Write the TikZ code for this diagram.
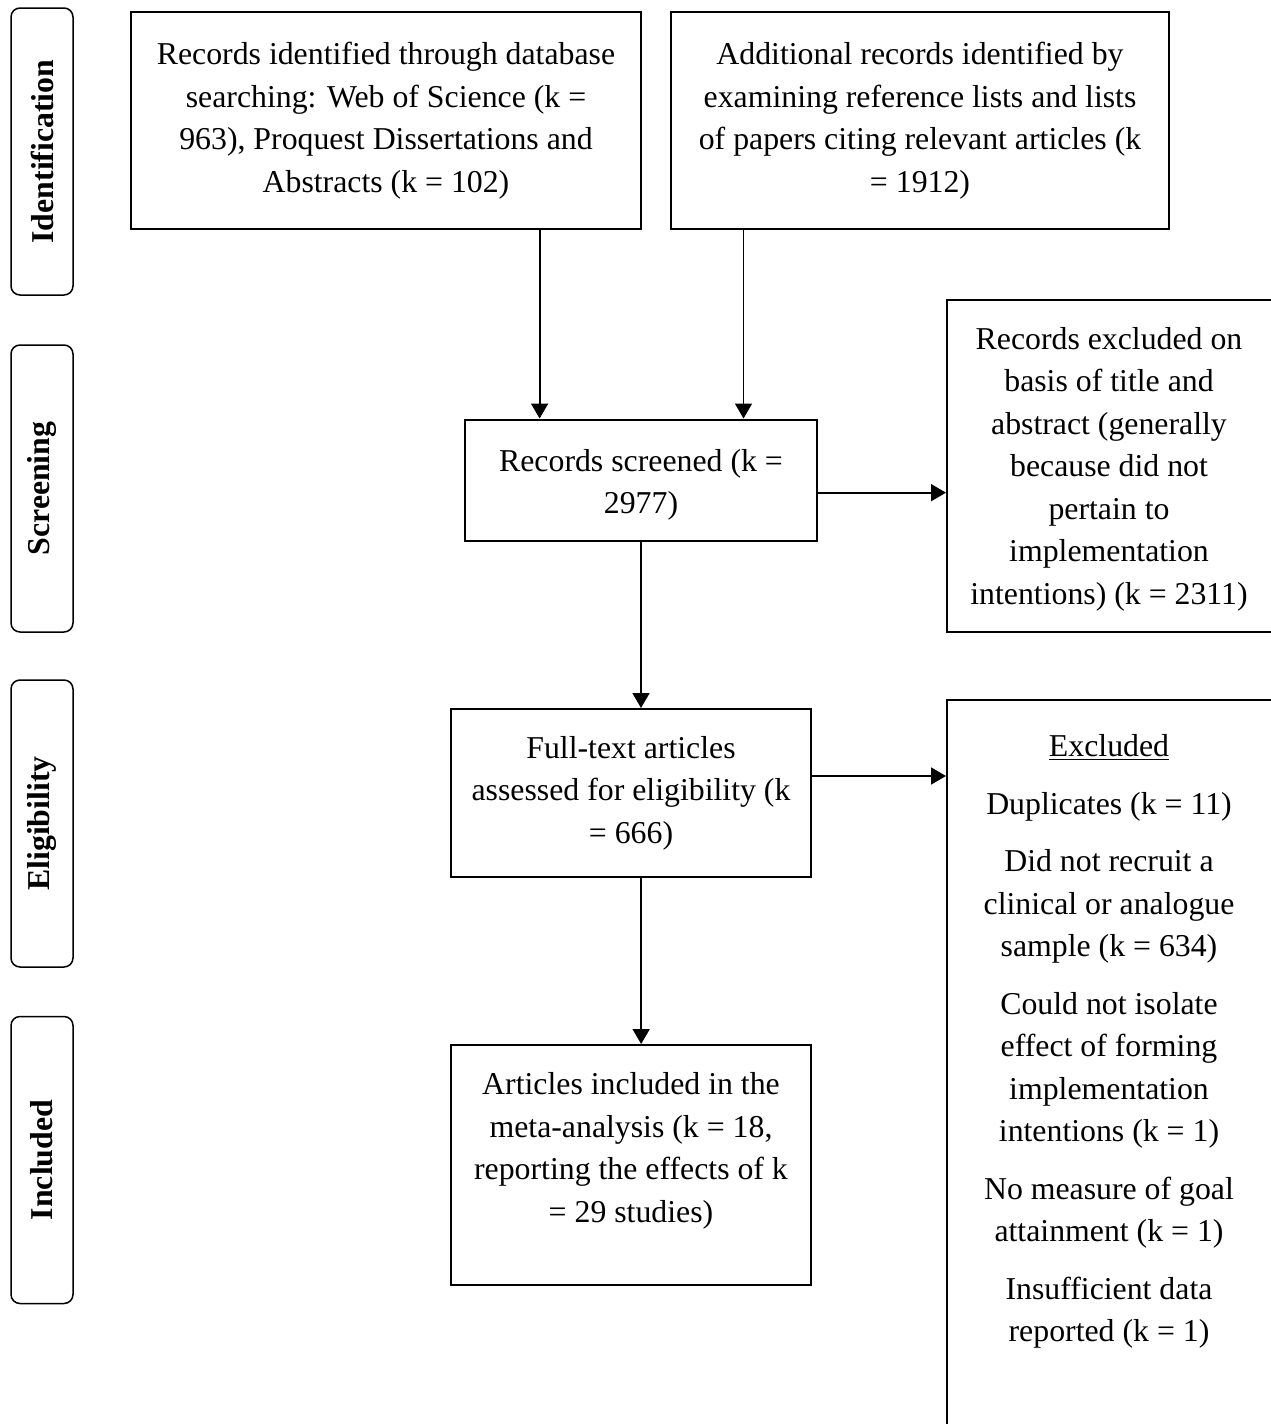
\documentclass[tikz,border=0pt]{standalone}
\usepackage{fontspec}
\setmainfont{Liberation Serif}
\usetikzlibrary{arrows.meta,calc}
\begin{document}
\begin{tikzpicture}[x=0.5pt,y=-0.5pt,
  txt/.style={font=\fontsize{15.9pt}{21.25pt}\selectfont, align=center, inner sep=0pt},
  box/.style={txt, draw, line width=1pt},
  side/.style={draw, line width=0.75pt, rounded corners=4.5pt, rotate=90,
     minimum width=143.5pt, minimum height=31pt, inner sep=0pt,
     font=\fontsize{15.9pt}{21.25pt}\selectfont\bfseries},
  arr/.style={line width=0.9pt, -{Triangle[length=7.5pt,width=8.5pt]}}]
\useasboundingbox (0,0) rectangle (1270,1424);
\fill[white] (0,0) rectangle (1270,1424);

% side labels
\node[side] (sid) at (42,151.5) {Identification};
\node[side] (sscr) at (42,488.5) {Screening};
\node[side] (selg) at (42,823.5) {Eligibility};
\node[side] (sinc) at (42,1160) {Included};

% boxes
\node[box, minimum width=255pt, minimum height=108.5pt] (ida) at (386,120.5)
  {Records identified through database\\searching: Web of Science (k =\\963), Proquest Dissertations and\\Abstracts (k = 102)};
\node[box, minimum width=249pt, minimum height=108.5pt] (idb) at (920,120.5)
  {Additional records identified by\\examining reference lists and lists\\of papers citing relevant articles (k\\= 1912)};
\node[box, minimum width=176pt, minimum height=60.5pt] (scr) at (641,480) {};
\node[txt] (scrTxt) at (641,485) {Records screened (k =\\2977)};
\node[box, minimum width=164pt, minimum height=165.75pt] (recex) at (1111,466) {};
\node[txt] (recexTxt) at (1109,469)
  {Records excluded on\\basis of title and\\abstract (generally\\because did not\\pertain to\\implementation\\intentions) (k = 2311)};
\node[box, minimum width=180pt, minimum height=84pt] (full) at (631,793)
  {Full-text articles\\assessed for eligibility (k\\= 666)};
\node[box, minimum width=180pt, minimum height=120pt] (art) at (631,1165) {};
\node[txt] (artTxt) at (631,1151)
  {Articles included in the\\meta-analysis (k = 18,\\reporting the effects of k\\= 29 studies)};
\node[box, minimum width=164pt, minimum height=375pt] (excl) at (1111,1075) {};
\node[txt] (exTxt) at (1109,1041.5)
  {\underline{Excluded}\\[7.5pt]
   Duplicates (k = 11)\\[7.5pt]
   Did not recruit a\\clinical or analogue\\sample (k = 634)\\[7.5pt]
   Could not isolate\\effect of forming\\implementation\\intentions (k = 1)\\[7.5pt]
   No measure of goal\\attainment (k = 1)\\[7.5pt]
   Insufficient data\\reported (k = 1)};

% connectors
\draw[arr] ($(ida.south west)!0.8!(ida.south east)$) coordinate (p1) -- (p1 |- scr.north);
\draw[arr] ($(idb.south west)!0.147!(idb.south east)$) coordinate (p2) -- (p2 |- scr.north);
\draw[arr] ($(scr.south east)!0.397!(scr.north east)$) coordinate (p3) -- (p3 -| recex.west);
\draw[arr] (scr.south) -- (scr.south |- full.north);
\draw[arr] ($(full.south east)!0.6!(full.north east)$) coordinate (p4) -- (p4 -| excl.west);
\draw[arr] ($(full.south west)!0.528!(full.south east)$) coordinate (p5) -- (p5 |- art.north);
\end{tikzpicture}
\end{document}
